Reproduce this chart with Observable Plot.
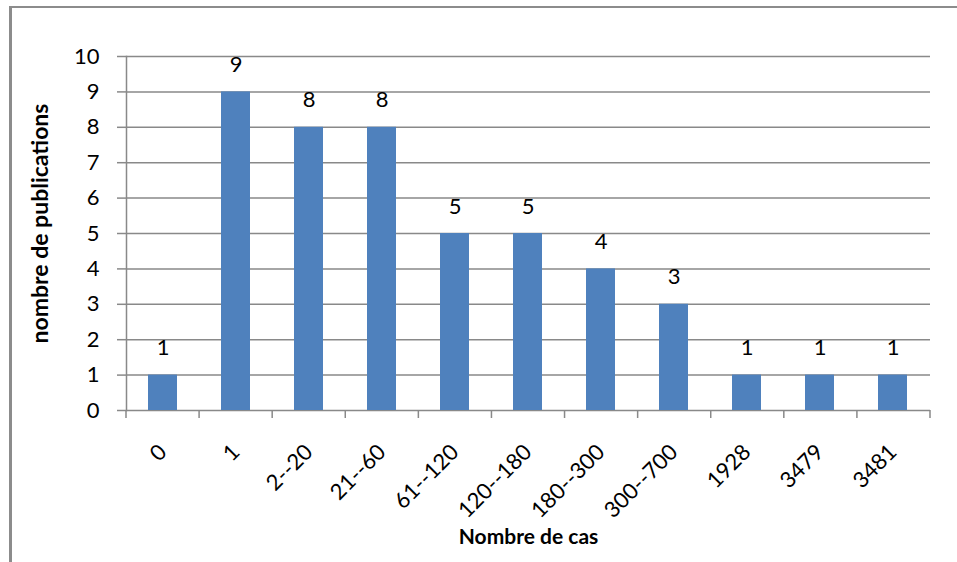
<!DOCTYPE html>
<html><head><meta charset="utf-8">
<script src="https://cdn.jsdelivr.net/npm/d3@7"></script>
<script src="https://cdn.jsdelivr.net/npm/@observablehq/plot@0.6"></script>
<style>
body{margin:0;background:#fff;}
#wrap{position:relative;width:957px;height:562px;overflow:hidden;}
#frame{position:absolute;left:9px;top:6px;width:990px;height:600px;border-left:3px solid #8c8c8c;border-top:2px solid #8c8c8c;box-sizing:border-box;}
#chart{position:absolute;left:0;top:0;}
</style></head>
<body><div id="wrap"><div id="frame"></div><div id="chart"></div></div>
<script>
const categories = ["0","1","2--20","21--60","61--120","120--180","180--300","300--700","1928","3479","3481"];
const values = [1,9,8,8,5,5,4,3,1,1,1];
const yTicks = [0,1,2,3,4,5,6,7,8,9,10];
const yTitle = "nombre de publications";
const xTitle = "Nombre de cas";

const data = categories.map((c,i)=>({cat:c, n:values[i]}));
const gridColor = "#898989";
const font = "Lato, 'Open Sans', sans-serif";

function boundaryTicks(index, scales, vals, dims) {
  const n = categories.length;
  const step = (dims.width - dims.marginLeft - dims.marginRight) / n;
  const y0 = scales.y(0);
  const g = d3.create("svg:g").attr("stroke", gridColor).attr("stroke-width", 1.5);
  for (let i = 0; i <= n; i++) {
    const x = dims.marginLeft + i * step;
    g.append("line").attr("x1", x).attr("x2", x).attr("y1", y0).attr("y2", y0 + 8);
  }
  return g.node();
}

const chart = Plot.plot({
  width: 957,
  height: 562,
  marginLeft: 126,
  marginRight: 27,
  marginTop: 56,
  marginBottom: 152,
  style: {fontFamily: font, background: "transparent", color: "#000"},
  x: {domain: categories, paddingInner: 0.6, paddingOuter: 0.3, axis: null},
  y: {domain: [0, 10], axis: null},
  marks: [
    Plot.ruleY(yTicks, {stroke: gridColor, strokeWidth: 1.5}),
    Plot.axisY({ticks: yTicks, label: null, tickSize: 9, tickPadding: 18, fontSize: 22, stroke: gridColor, strokeWidth: 1.5, tickFormat: d => String(d)}),
    Plot.barY(data, {x: "cat", y: "n", fill: "#4f81bd"}),
    Plot.frame({anchor: "left", stroke: gridColor, strokeWidth: 1.5}),
    boundaryTicks,
    Plot.text(data, {x: "cat", y: "n", text: d => String(d.n), dy: -27, fontSize: 22, fill: "#000"}),
    Plot.text(data, {x: "cat", text: "cat", frameAnchor: "bottom", dy: 38, dx: 0, rotate: -45, textAnchor: "end", lineAnchor: "middle", fontSize: 22, fill: "#000"}),
    Plot.text([yTitle], {frameAnchor: "left", textAnchor: "middle", lineAnchor: "middle", dx: -86, dy: -10, rotate: -90, fontSize: 23, fontWeight: "bold", fill: "#000"}),
    Plot.text([xTitle], {frameAnchor: "bottom", dy: 133, fontSize: 21, fontWeight: "bold", fill: "#000"})
  ]
});
document.getElementById("chart").appendChild(chart);
</script>
</body></html>
